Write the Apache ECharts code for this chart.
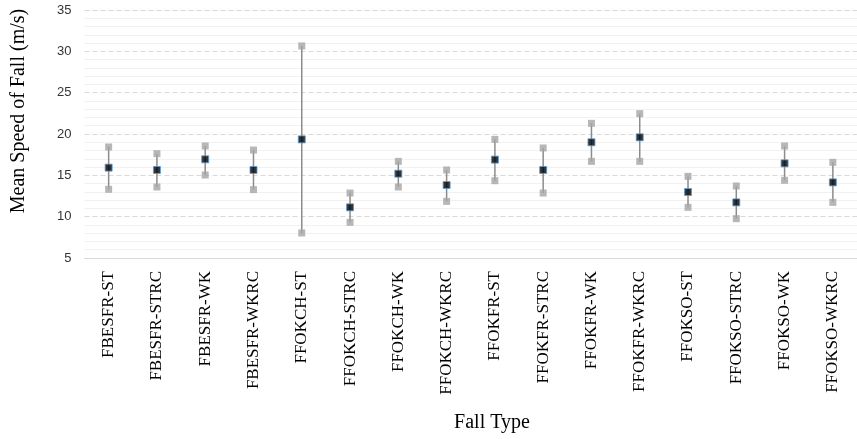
<!DOCTYPE html>
<html><head><meta charset="utf-8">
<script src="https://cdn.jsdelivr.net/npm/echarts@6/dist/echarts.min.js"></script>
<style>html,body{margin:0;padding:0;background:#fff}#c{width:857px;height:439px}</style>
</head><body><div id="c"></div>
<script>
const categories = ["FBESFR-ST","FBESFR-STRC","FBESFR-WK","FBESFR-WKRC","FFOKCH-ST","FFOKCH-STRC","FFOKCH-WK","FFOKCH-WKRC","FFOKFR-ST","FFOKFR-STRC","FFOKFR-WK","FFOKFR-WKRC","FFOKSO-ST","FFOKSO-STRC","FFOKSO-WK","FFOKSO-WKRC"];
const meanValues = [15.93,15.65,16.94,15.65,19.35,11.13,15.2,13.83,16.9,15.65,19.0,19.6,12.98,11.73,16.45,14.15];
const upperValues = [18.43,17.62,18.55,18.06,30.65,12.86,16.69,15.65,19.35,18.31,21.29,22.46,14.88,13.71,18.55,16.57];
const lowerValues = [13.31,13.59,15.04,13.27,8.03,9.31,13.59,11.85,14.35,12.86,16.69,16.69,11.13,9.76,14.4,11.73];
const yTicks = [5,10,15,20,25,30,35];

const serif = '"Liberation Serif","Times New Roman",serif';
const sans = '"Liberation Sans",Arial,sans-serif';
const chart = echarts.init(document.getElementById('c'), null, {renderer:'canvas'});
const barData = categories.map((c,i)=>[i, lowerValues[i], upperValues[i]]);
chart.setOption({
  animation:false,
  grid:{left:84.5, right:-5, top:10, bottom:181, containLabel:false},
  xAxis:{type:'category', data:categories, boundaryGap:true,
    axisLine:{show:true, lineStyle:{color:'#d9d9d9', width:1}},
    axisTick:{show:false},
    axisLabel:{rotate:90, interval:0, margin:13, color:'#000', fontFamily:serif, fontSize:17},
    splitLine:{show:false}},
  yAxis:{type:'value', min:yTicks[0], max:yTicks[yTicks.length-1], interval:5,
    axisLine:{show:false}, axisTick:{show:false},
    axisLabel:{margin:13, color:'#333', fontFamily:sans, fontSize:13},
    splitLine:{show:true, lineStyle:{color:'#d9d9d9', type:[5,3], width:1}},
    minorTick:{show:false, splitNumber:5},
    minorSplitLine:{show:true, lineStyle:{color:'#f1f1f1', width:1}}},
  series:[
    {type:'custom', data:barData, z:2,
     renderItem:function(params, api){
       const p1 = api.coord([api.value(0), api.value(1)]);
       const p2 = api.coord([api.value(0), api.value(2)]);
       return {type:'line', shape:{x1:p1[0], y1:p1[1], x2:p2[0], y2:p2[1]},
               style:{stroke:'#8c8c8c', lineWidth:1.5}};
     }},
    {type:'scatter', data:upperValues, symbol:'rect', symbolSize:7, z:3,
     itemStyle:{color:'#a5a5a5'}},
    {type:'scatter', data:lowerValues, symbol:'rect', symbolSize:7, z:3,
     itemStyle:{color:'#a5a5a5'}},
    {type:'scatter', data:meanValues, symbol:'rect', symbolSize:7, z:4,
     itemStyle:{color:'#000', borderColor:'#5b9bd5', borderWidth:1}}
  ],
  graphic:[
    {type:'text', x:19, y:111, rotation:Math.PI/2,
     style:{text:'Mean Speed of Fall (m/s)', fontFamily:serif, fontSize:20, fill:'#000', align:'center', verticalAlign:'middle'}},
    {type:'text', x:492, y:423, style:{text:'Fall Type', fontFamily:serif, fontSize:20, fill:'#000', align:'center', verticalAlign:'middle'}}
  ]
});
</script></body></html>
